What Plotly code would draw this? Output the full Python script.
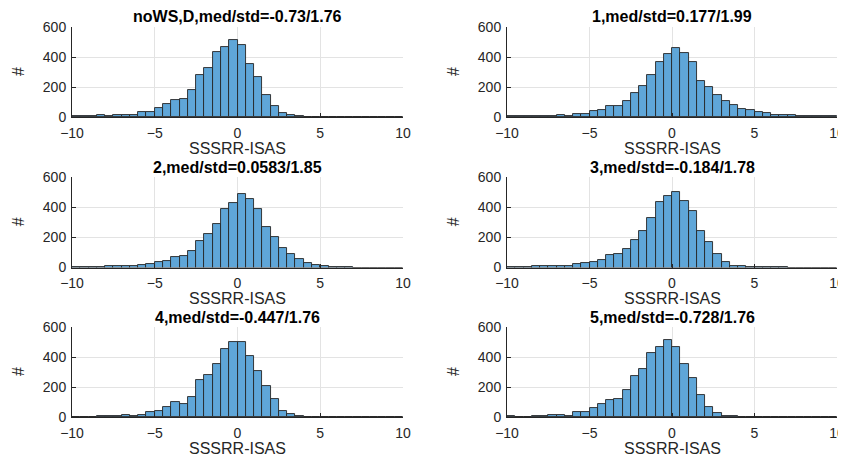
import plotly.graph_objects as go

# ---- data ----
bin_edges = [-10.0, -9.5, -9.0, -8.5, -8.0, -7.5, -7.0, -6.5, -6.0, -5.5,
             -5.0, -4.5, -4.0, -3.5, -3.0, -2.5, -2.0, -1.5, -1.0, -0.5,
             0.0, 0.5, 1.0, 1.5, 2.0, 2.5, 3.0, 3.5, 4.0, 4.5,
             5.0, 5.5, 6.0, 6.5, 7.0, 7.5, 8.0, 8.5, 9.0, 9.5, 10.0]

titles = ["noWS,D,med/std=-0.73/1.76", "1,med/std=0.177/1.99",
          "2,med/std=0.0583/1.85", "3,med/std=-0.184/1.78",
          "4,med/std=-0.447/1.76", "5,med/std=-0.728/1.76"]

counts_noWS = [9, 4, 4, 11, 9, 15, 15, 11, 35, 35, 59, 86, 114, 123, 182, 277, 327, 431, 470, 516,
               479, 356, 264, 149, 73, 24, 11, 7, 2, 2, 2, 1, 1, 0, 0, 0, 0, 0, 0, 0]
counts_1 = [4, 4, 4, 7, 7, 9, 13, 7, 18, 22, 37, 46, 73, 75, 108, 163, 204, 279, 365, 422,
            457, 424, 365, 237, 198, 149, 105, 81, 53, 48, 33, 24, 15, 13, 11, 9, 7, 7, 7, 4]
counts_2 = [4, 1, 2, 4, 7, 9, 9, 9, 15, 22, 37, 42, 70, 77, 108, 176, 220, 288, 385, 429,
            486, 451, 385, 268, 200, 130, 88, 57, 29, 15, 7, 4, 2, 2, 0, 0, 0, 0, 0, 0]
counts_3 = [2, 2, 4, 7, 7, 7, 13, 9, 20, 33, 35, 51, 86, 88, 125, 185, 240, 325, 431, 477,
            501, 444, 376, 242, 169, 92, 37, 9, 9, 2, 2, 1, 1, 1, 0, 0, 0, 0, 0, 0]
counts_4 = [2, 2, 2, 4, 7, 7, 13, 9, 15, 31, 40, 64, 103, 88, 136, 244, 279, 354, 455, 503,
            503, 407, 310, 204, 119, 42, 22, 4, 2, 2, 1, 1, 1, 0, 0, 0, 0, 0, 0, 0]
counts_5 = [4, 1, 2, 7, 7, 11, 15, 9, 33, 33, 57, 84, 112, 119, 182, 273, 321, 424, 466, 516,
            470, 352, 257, 149, 70, 24, 9, 4, 2, 1, 1, 1, 1, 0, 0, 0, 0, 0, 0, 0]

x_ticks = [-10, -5, 0, 5, 10]
y_ticks = [0, 200, 400, 600]
x_label = "SSSRR-ISAS"
y_label = "#"

all_counts = [counts_noWS, counts_1, counts_2, counts_3, counts_4, counts_5]

# ---- layout geometry (pixels, as seen in the browser window) ----
W, H = 846, 458
OFF = 8  # page body margin: the figure is drawn 8px right/down in the window
col_px = [(72, 403), (507, 837)]
row_px = [(27, 117), (177, 267.5), (327, 417)]


def fx(px):
    return (px - OFF) / W


def fy(px):
    return 1 - (px - OFF) / H


FONT = "Liberation Sans, Arial, Helvetica, sans-serif"
TXT = "#262626"
bar_fill = "#5FA6D8"
bar_edge = "#262626"

centers = [(bin_edges[i] + bin_edges[i + 1]) / 2 for i in range(len(bin_edges) - 1)]
widths = [bin_edges[i + 1] - bin_edges[i] for i in range(len(bin_edges) - 1)]

fig = go.Figure()
annotations = []
for k, counts in enumerate(all_counts):
    r, c = divmod(k, 2)
    idx = "" if k == 0 else str(k + 1)
    xa, ya = "x" + idx, "y" + idx
    fig.add_trace(go.Bar(x=centers, y=counts, width=widths, xaxis=xa, yaxis=ya,
                         marker=dict(color=bar_fill, line=dict(color=bar_edge, width=0.9)),
                         showlegend=False))
    x0, x1 = col_px[c]
    top, bot = row_px[r]
    axis_common = dict(showline=True, linecolor="#262626", linewidth=1, mirror=False,
                       showgrid=True, gridcolor="#E3E3E3", gridwidth=1, zeroline=False,
                       ticks="inside", ticklen=4, tickcolor="#262626", automargin=False,
                       tickfont=dict(family=FONT, size=14, color=TXT))
    fig.layout["xaxis" + idx] = dict(domain=[fx(x0), fx(x1)], range=[-10, 10],
                                     tickvals=x_ticks, anchor=ya, ticklabelstandoff=3,
                                     **axis_common)
    fig.layout["yaxis" + idx] = dict(domain=[fy(bot), fy(top)], range=[0, 600],
                                     tickvals=y_ticks, anchor=xa, ticklabelstandoff=2,
                                     **axis_common)
    # subplot title
    annotations.append(dict(text="<b>" + titles[k] + "</b>", xref="paper", yref="paper",
                            x=fx((x0 + x1) / 2), y=fy(top - 10),
                            xanchor="center", yanchor="middle", showarrow=False,
                            font=dict(family=FONT, size=16, color="#000000")))
    # x label
    annotations.append(dict(text=x_label, xref="paper", yref="paper",
                            x=fx((x0 + x1) / 2), y=fy(bot + 31),
                            xanchor="center", yanchor="middle", showarrow=False,
                            font=dict(family=FONT, size=16, color=TXT)))
    # y label
    annotations.append(dict(text=y_label, xref="paper", yref="paper",
                            x=fx(x0 - 54), y=fy((top + bot) / 2), textangle=-90,
                            xanchor="center", yanchor="middle", showarrow=False,
                            font=dict(family=FONT, size=16, color=TXT)))

fig.update_layout(width=W, height=H, margin=dict(l=0, r=0, t=0, b=0, pad=0),
                  paper_bgcolor="white", plot_bgcolor="white", bargap=0,
                  annotations=annotations)

fig.write_html("out.html")
